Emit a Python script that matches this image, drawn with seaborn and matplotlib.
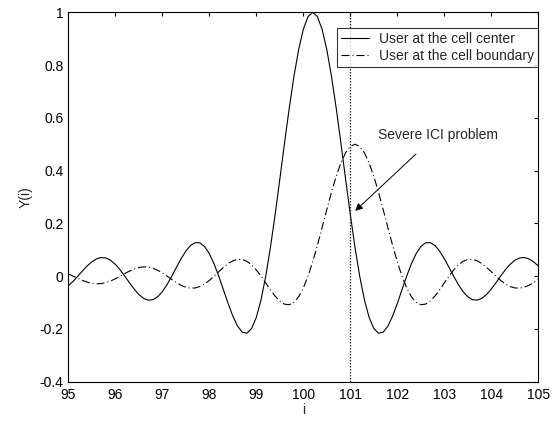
import numpy as np
import pandas as pd
import seaborn as sns
from matplotlib import pyplot as plt

# sample positions i (step 0.1 from 95 to 105)
i_vals = np.round(np.arange(950, 1051) / 10, 1)

# user at the cell center (solid curve)
y_center = [
    -0.0360, -0.0193, 0.0000, 0.0201, 0.0390, 0.0548, 0.0658, 0.0707, 0.0688, 0.0599,
    0.0445, 0.0240, 0.0000, -0.0252, -0.0492, -0.0696, -0.0841, -0.0909, -0.0890, -0.0780,
    -0.0585, -0.0317, 0.0000, 0.0339, 0.0668, 0.0954, 0.1164, 0.1273, 0.1261, 0.1120,
    0.0850, 0.0468, 0.0000, -0.0518, -0.1039, -0.1515, -0.1892, -0.2122, -0.2162, -0.1981,
    -0.1559, -0.0894, 0.0000, 0.1093, 0.2339, 0.3679, 0.5046, 0.6366, 0.7568, 0.8584,
    0.9355, 0.9836, 1.0000, 0.9836, 0.9355, 0.8584, 0.7568, 0.6366, 0.5046, 0.3679,
    0.2339, 0.1093, 0.0000, -0.0894, -0.1559, -0.1981, -0.2162, -0.2122, -0.1892, -0.1515,
    -0.1039, -0.0518, 0.0000, 0.0468, 0.0850, 0.1120, 0.1261, 0.1273, 0.1164, 0.0954,
    0.0668, 0.0339, 0.0000, -0.0317, -0.0585, -0.0780, -0.0890, -0.0909, -0.0841, -0.0696,
    -0.0492, -0.0252, 0.0000, 0.0240, 0.0445, 0.0599, 0.0688, 0.0707, 0.0658, 0.0548,
    0.0390,
]

# user at the cell boundary (dash-dot curve)
y_boundary = [
    0.0081, 0.0000, -0.0084, -0.0162, -0.0226, -0.0271, -0.0290, -0.0281, -0.0243, -0.0180,
    -0.0097, 0.0000, 0.0101, 0.0195, 0.0274, 0.0329, 0.0354, 0.0344, 0.0300, 0.0223,
    0.0120, 0.0000, -0.0126, -0.0246, -0.0348, -0.0421, -0.0455, -0.0445, -0.0390, -0.0293,
    -0.0159, 0.0000, 0.0170, 0.0334, 0.0477, 0.0582, 0.0637, 0.0631, 0.0560, 0.0425,
    0.0234, 0.0000, -0.0259, -0.0520, -0.0758, -0.0946, -0.1061, -0.1081, -0.0991, -0.0780,
    -0.0447, 0.0000, 0.0547, 0.1170, 0.1840, 0.2523, 0.3183, 0.3784, 0.4292, 0.4678,
    0.4918, 0.5000, 0.4918, 0.4678, 0.4292, 0.3784, 0.3183, 0.2523, 0.1840, 0.1170,
    0.0547, 0.0000, -0.0447, -0.0780, -0.0991, -0.1081, -0.1061, -0.0946, -0.0758, -0.0520,
    -0.0259, 0.0000, 0.0234, 0.0425, 0.0560, 0.0631, 0.0637, 0.0582, 0.0477, 0.0334,
    0.0170, 0.0000, -0.0159, -0.0293, -0.0390, -0.0445, -0.0455, -0.0421, -0.0348, -0.0246,
    -0.0126,
]

labels = ['User at the cell center', 'User at the cell boundary']
x_ticks = list(range(95, 106))
y_ticks = [-0.4, -0.2, 0, 0.2, 0.4, 0.6, 0.8, 1]
y_ticklabels = ['-0.4', '-0.2', '0', '0.2', '0.4', '0.6', '0.8', '1']
marker_i = 101  # dotted reference line

df = pd.DataFrame({'i': i_vals, 'center': y_center, 'boundary': y_boundary})

sns.set_style('white')
plt.rcParams['font.family'] = ['Liberation Sans', 'DejaVu Sans']
plt.rcParams['font.size'] = 10

fig = plt.figure(figsize=(5.52, 4.23), dpi=100)
ax = fig.add_axes([0.124, 0.0976, 0.851, 0.8733])

sns.lineplot(data=df, x='i', y='center', ax=ax, color='black', lw=0.8, label=labels[0])
sns.lineplot(data=df, x='i', y='boundary', ax=ax, color='black', lw=0.8,
             linestyle=(0, (7.2, 2.7, 0.9, 2.7)), label=labels[1])
ax.axvline(marker_i, color='0.15', lw=0.9, linestyle=(0, (1.2, 1.2)))

ax.set_xlim(95, 105)
ax.set_ylim(-0.4, 1)
ax.set_xticks(x_ticks)
ax.set_yticks(y_ticks)
ax.set_yticklabels(y_ticklabels)
ax.tick_params(direction='in', length=3, width=0.8, top=True, right=True,
               labelsize=10, colors='black')
ax.tick_params(axis='x', pad=4.5)
ax.tick_params(axis='y', pad=3.5)
for s in ax.spines.values():
    s.set_color('black')
    s.set_linewidth(0.8)

ax.set_xlabel('i', fontsize=10, labelpad=1)
ax.set_ylabel('Y(i)', fontsize=10, labelpad=5)

leg = ax.legend(loc='upper right', bbox_to_anchor=(1.0, 0.957), borderaxespad=0,
                fontsize=10, frameon=True, fancybox=False, handlelength=2.0,
                handletextpad=0.7, borderpad=0.3, labelspacing=0.2)
leg.get_frame().set_edgecolor('black')
leg.get_frame().set_linewidth(0.8)

ax.text(101.59, 0.534, 'Severe ICI problem', fontsize=10, va='center', ha='left')
ax.annotate('', xy=(101.06, 0.24), xytext=(102.44, 0.47),
            arrowprops=dict(arrowstyle='-|>', color='black', lw=0.7, mutation_scale=11))

fig.savefig('out.png', dpi=100)
